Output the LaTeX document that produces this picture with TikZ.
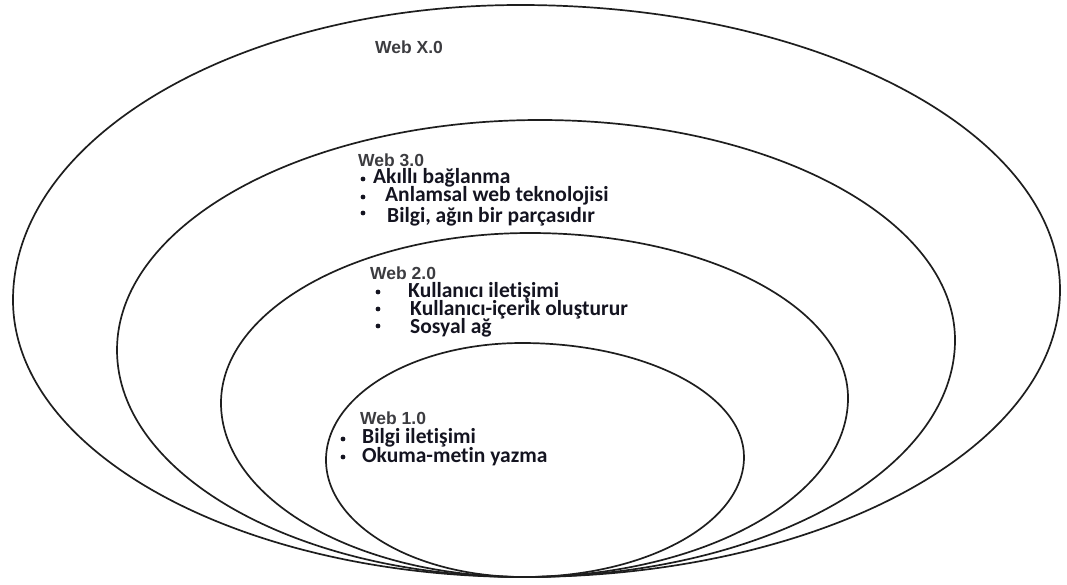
\documentclass[tikz,border=0pt]{standalone}
\usepackage{fontspec}
\newfontfamily\headfont{Liberation Sans}
\newfontfamily\itemfont{Carlito}[Ligatures={NoCommon}]
\definecolor{headgray}{HTML}{3C3C40}
\definecolor{itemink}{HTML}{141420}
\definecolor{rim}{HTML}{1E1E1E}
% closed egg-shaped outline through bottom, right, top and left extreme points
\newcommand\kk{0.5523}
\newcommand\eggring[9]{%
  \draw[#1] (#2,#3)
    .. controls ({#2+\kk*(#4-#2)},#3) and (#4,{#5+\kk*(#3-#5)}) .. (#4,#5)
    .. controls (#4,{#5-\kk*(#5-#7)}) and ({#6+\kk*(#4-#6)},#7) .. (#6,#7)
    .. controls ({#6-\kk*(#6-#8)},#7) and (#8,{#9-\kk*(#9-#7)}) .. (#8,#9)
    .. controls (#8,{#9+\kk*(#3-#9)}) and ({#2-\kk*(#2-#8)},#3) .. cycle;}
\tikzset{
  ring/.style={draw=rim, line width=1.7pt},
  head/.style={anchor=base west, inner sep=0pt, text=headgray,
    font=\headfont\bfseries\fontsize{17.5}{20}\selectfont},
  item/.style={anchor=base west, inner sep=0pt, text=itemink,
    font=\itemfont\bfseries\fontsize{21.5}{24}\selectfont},
  dot/.style={circle, fill=itemink, inner sep=0pt, minimum size=4.8pt}
}
\begin{document}
\begin{tikzpicture}[x=1pt, y=-1pt]
\useasboundingbox (0,0) rectangle (1067,584);

% nested layers, all resting on the same bottom point
\eggring{ring}{524}{577}{1060}{290}{520}{5}{13}{300}
\eggring{ring}{524}{577}{955}{340}{540}{120}{117}{350}
\eggring{ring}{524}{577}{848}{398}{530}{233}{221}{403}
\eggring{ring}{524}{577}{744}{457}{522}{343}{326}{460}

% Web X.0
\node[head] (hx) at (375,53) {Web X.0};

% Web 3.0
\node[head] (h3) at (358,166) {Web 3.0};
\node[dot] (d31) at (363,179) {};
\node[item] (t31) at (373,183) {Akıllı bağlanma};
\node[dot] (d32) at (363,197) {};
\node[item] (t32) at (385,201) {Anlamsal web teknolojisi};
\node[dot] (d33) at (363,213) {};
\node[item] (t33) at (387,222) {Bilgi, ağın bir parçasıdır};

% Web 2.0
\node[head] (h2) at (370,279) {Web 2.0};
\node[dot] (d21) at (378,292) {};
\node[item] (t21) at (408,297) {Kullanıcı iletişimi};
\node[dot] (d22) at (378,309) {};
\node[item] (t22) at (410,315) {Kullanıcı-içerik oluşturur};
\node[dot] (d23) at (378,326) {};
\node[item] (t23) at (410,333) {Sosyal ağ};

% Web 1.0
\node[head] (h1) at (360,424) {Web 1.0};
\node[dot] (d11) at (343,439) {};
\node[item] (t11) at (362,443) {Bilgi iletişimi};
\node[dot] (d12) at (343,457) {};
\node[item] (t12) at (362,462) {Okuma-metin yazma};
\end{tikzpicture}
\end{document}
